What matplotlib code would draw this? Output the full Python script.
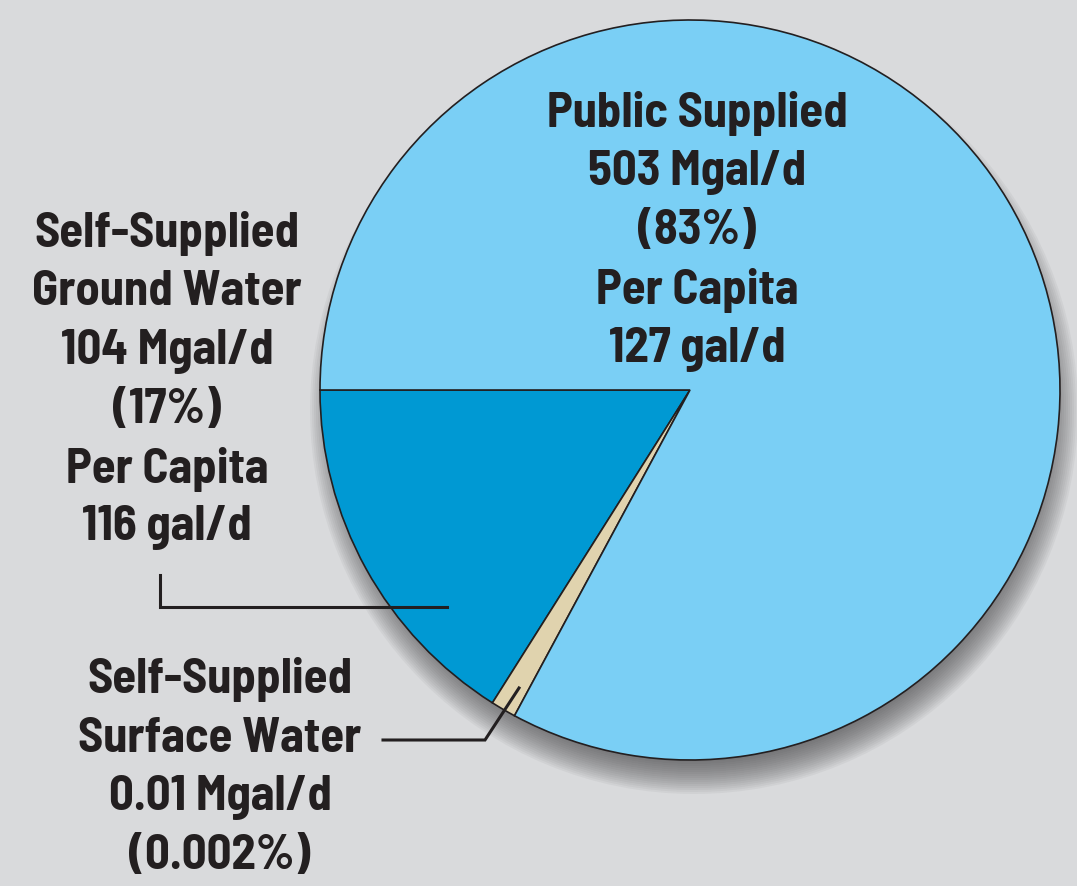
import matplotlib.pyplot as plt
from matplotlib.patches import Circle

# withdrawals in Mgal/d
labels = ["Public Supplied", "Self-Supplied Ground Water", "Self-Supplied Surface Water"]
mgal_d = [503, 104, 0.01]
percent = ["83%", "17%", "0.002%"]
per_capita = [127, 116, None]
# the surface-water sliver is too small to see, the original draws it at ~4 degrees
min_sliver = 0.011

bg = "#d9dadc"
colors = ["#7acff5", "#0099d3", "#e0d3ae"]
ink = "#231f20"

fig = plt.figure(figsize=(10.77, 8.86), dpi=100, facecolor=bg)
ax = fig.add_axes([0, 0, 1, 1])

cx, cy, R = 690, 886 - 390, 370

# drawn shares: ground loses what the sliver gains so totals stay put
total = sum(mgal_d)
share = [v / total for v in mgal_d]
share[1] -= min_sliver - share[2]
share[2] = min_sliver
order = [1, 2, 0]
wedges, _ = ax.pie([share[i] for i in order], colors=[colors[i] for i in order],
                   startangle=180, counterclock=True, center=(cx, cy), radius=R,
                   wedgeprops=dict(edgecolor=ink, linewidth=1.2), frame=True)
for w in wedges:
    w.set_zorder(3)

# soft drop shadow: stacked translucent discs, offset downwards
for s in range(-24, 16, 2):
    ax.add_patch(Circle((cx + 4, cy - 20), R + s, facecolor="#4a4a4c",
                        edgecolor="none", alpha=0.06, zorder=2))

ax.set_xlim(0, 1077)
ax.set_ylim(0, 886)
ax.set_aspect("equal")
ax.axis("off")

font = dict(family=["Barlow Semi Condensed", "DejaVu Sans"], weight="bold",
            fontsize=35, color=ink, ha="center", va="center", zorder=6)

def block(x, y_top, lines, step=59):
    for k, s in enumerate(lines):
        ax.text(x, 886 - (y_top + k * step), s, **font)

block(697, 113, ["Public Supplied", f"{mgal_d[0]} Mgal/d", f"({percent[0]})",
                 "Per Capita", f"{per_capita[0]} gal/d"])
block(167, 233, ["Self-Supplied", "Ground Water", f"{mgal_d[1]} Mgal/d",
                 f"({percent[1]})", "Per Capita", f"{per_capita[1]} gal/d"])
block(220, 680, ["Self-Supplied", "Surface Water", f"{mgal_d[2]} Mgal/d",
                 f"({percent[2]})"], step=58.5)

# leader lines
ax.plot([160, 160, 447], [886 - 575, 886 - 607, 886 - 607], color=ink, lw=2.2,
        solid_joinstyle="miter", zorder=5)
ax.plot([383, 485, 519], [886 - 740, 886 - 740, 886 - 688], color=ink, lw=2.2,
        solid_joinstyle="miter", zorder=5)

fig.savefig("out.png", dpi=100, facecolor=bg)
